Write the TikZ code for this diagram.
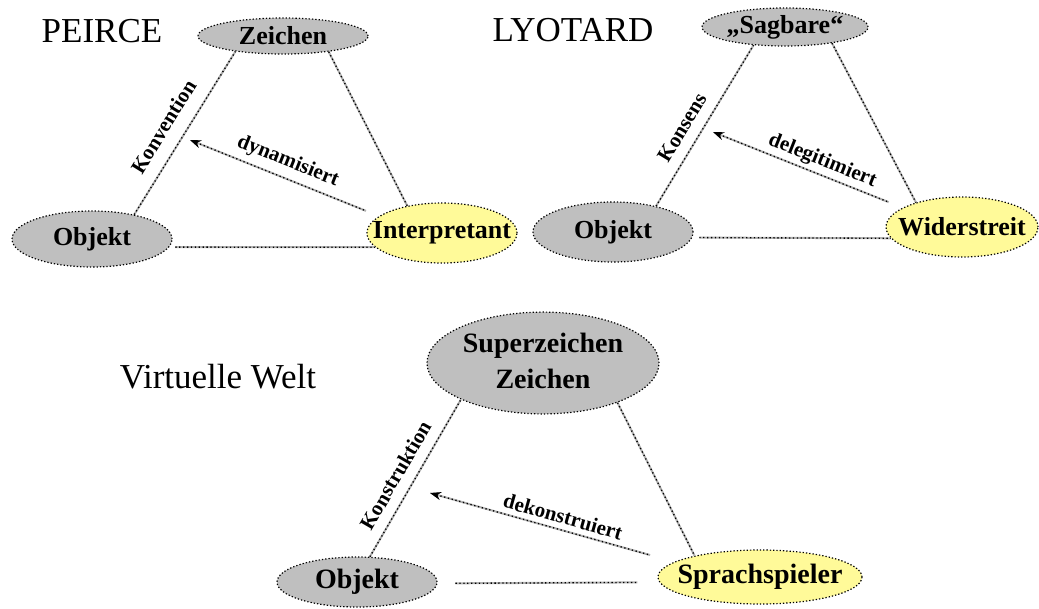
\documentclass[tikz,border=0pt]{standalone}
\usepackage{fontspec}
\setmainfont{Liberation Serif}
\usetikzlibrary{shapes.geometric,arrows.meta}
\begin{document}
\begin{tikzpicture}[x=1pt,y=-1pt,
 blob/.style={ellipse,draw,line width=1.2pt,dash pattern=on 1.3pt off 2pt,inner sep=0pt,
  font=\fontsize{26}{36}\selectfont\bfseries},
 grau/.style={blob,fill=black!25},
 gelb/.style={blob,fill=yellow!40},
 link/.style={draw=black!30,line width=2pt,
  postaction={draw=black,line width=1.3pt,dash pattern=on 1.3pt off 2.6pt}},
 pfeil/.style={{Stealth[length=11pt,width=8pt]}-},
 rel/.style={sloped,inner sep=2pt,font=\fontsize{21}{24}\selectfont\bfseries},
 titel/.style={font=\fontsize{35}{40}\selectfont}]
 \useasboundingbox (0,0) rectangle (1039,608);
 % <<< PEIRCE
 \node[titel] (tp) at (102,31) {PEIRCE};
 \node[grau,minimum width=170pt,minimum height=36pt] (Z) at (283,36) {\makebox[0pt]{Zeichen}};
 \node[grau,minimum width=160pt,minimum height=56pt] (O) at (92,239) {\makebox[0pt]{Objekt}};
 \node[gelb,minimum width=150pt,minimum height=60pt] (I) at (442,233) {\makebox[0pt]{Interpretant}};
 \coordinate (pa) at (190,140);
 \draw[link] (O.30) -- node[rel,above=11pt,pos=.47]{Konvention} (Z.198);
 \draw[link] (Z.-19) -- (I.142);
 \draw[link,shorten <=6pt] (O.-6) -- (I.192);
 \draw[link,pfeil,shorten >=14pt] (pa) -- node[rel,above=4pt,pos=.485]{dynamisiert} (I.165);
 % <<< LYOTARD
 \node[titel] (tl) at (573,30) {LYOTARD};
 \node[grau,minimum width=166pt,minimum height=38pt] (S) at (785,27) {\makebox[0pt]{„Sagbare“}};
 \node[grau,minimum width=160pt,minimum height=60pt] (O2) at (613,232) {\makebox[0pt]{Objekt}};
 \node[gelb,minimum width=152pt,minimum height=60pt] (W) at (962,227) {\makebox[0pt]{Widerstreit}};
 \coordinate (pb) at (713,132);
 \draw[link] (O2.31) -- node[rel,above=8pt,pos=.43]{Konsens} (S.210);
 \draw[link] (S.-19) -- (W.152);
 \draw[link,shorten <=7pt] (O2.-4) -- (W.189);
 \draw[link,pfeil,shorten >=15pt] (pb) -- node[rel,above=1pt,pos=.55]{delegitimiert} (W.162);
 % <<< Virtuelle Welt
 \node[titel] (tv) at (218,377) {Virtuelle Welt};
 \node[grau,minimum width=232pt,minimum height=92pt,font=\fontsize{28}{36}\selectfont\bfseries] (SZ) at (543,363)
  {\makebox[0pt]{\begin{tabular}{@{}c@{}}Superzeichen\\Zeichen\end{tabular}}};
 \node[grau,minimum width=160pt,minimum height=50pt,font=\fontsize{28}{36}\selectfont\bfseries] (O3) at (357,582) {\makebox[0pt]{Objekt}};
 \node[gelb,minimum width=204pt,minimum height=54pt,font=\fontsize{28}{36}\selectfont\bfseries] (SP) at (760,577) {\makebox[0pt]{Sprachspieler}};
 \coordinate (pc) at (430,493);
 \draw[link] (O3.63) -- node[rel,above=8pt,pos=.46]{Konstruktion} (SZ.204);
 \draw[link] (SZ.-28) -- (SP.162);
 \draw[link,shorten <=18pt,shorten >=22pt] (O3.-1) -- (SP.183);
 \draw[link,pfeil,shorten >=25pt] (pc) -- node[rel,above=3pt,pos=.53]{dekonstruiert} (SP.170);
\end{tikzpicture}
\end{document}
